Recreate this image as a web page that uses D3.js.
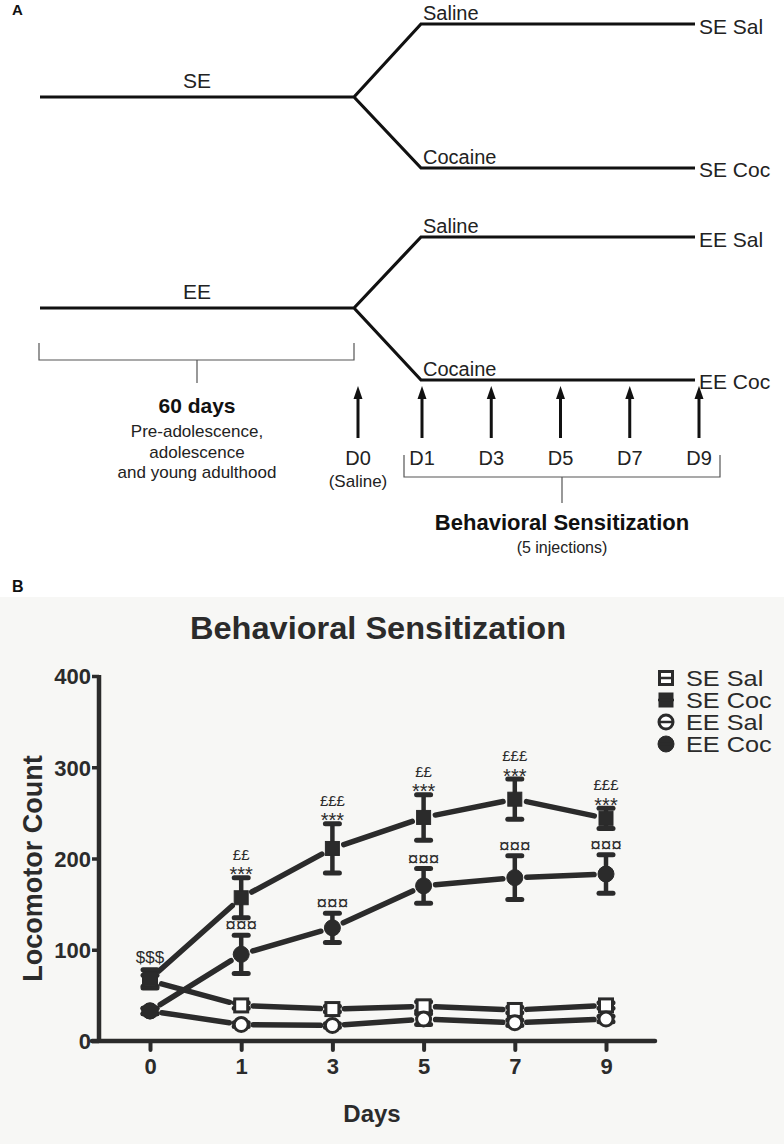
<!DOCTYPE html>
<html>
<head>
<meta charset="utf-8">
<script src="https://cdn.jsdelivr.net/npm/d3@7"></script>
<style>
  html, body { margin: 0; padding: 0; background: #ffffff; }
  svg { display: block; }
  text { font-family: "Liberation Sans", Arial, Helvetica, sans-serif; }
</style>
</head>
<body>
<svg id="fig" width="784" height="1144"></svg>
<script>
// ---------- DATA ----------
const days = ["0", "1", "3", "5", "7", "9"];
const yTicks = [0, 100, 200, 300, 400];

const seSal    = [66, 39, 35, 38, 34, 39];
const seSalErr = [6, 3, 3, 5, 3, 3];
const seCoc    = [68, 157, 211, 245, 265, 244];
const seCocErr = [10, 22, 27, 25, 22, 11];
const eeSal    = [33, 18, 17, 24, 20, 24];
const eeSalErr = [3, 2, 2, 6, 3, 3];
const eeCoc    = [33, 95, 124, 170, 179, 183];
const eeCocErr = [3, 21, 16, 19, 24, 21];

const starMarks   = ["", "***", "***", "***", "***", "***"];
const poundMarks  = ["", "££", "£££", "££", "£££", "£££"];
const dollarMarks = ["$$$", "", "", "", "", ""];
const currMarks   = ["", "¤¤¤", "¤¤¤", "¤¤¤", "¤¤¤", "¤¤¤"];

const seriesNames = ["SE Sal", "SE Coc", "EE Sal", "EE Coc"];

// Panel A diagram labels
const groups = ["SE", "EE"];
const treatments = ["Saline", "Cocaine"];
const injDays = ["D1", "D3", "D5", "D7", "D9"];

// ---------- SETUP ----------
const svg = d3.select("#fig");
const INK = "#2b2b2b";
const SANS = '"Liberation Sans", Arial, Helvetica, sans-serif';
const SERIF = '"Liberation Serif", "Times New Roman", serif';

// ================= PANEL A =================
const A = svg.append("g");
A.append("text").attr("x", 12).attr("y", 15).attr("font-size", 15)
  .attr("font-weight", "bold").attr("fill", "#111").text("A");

const trees = [
  { g: groups[0], trunk: 97,  up: 24,  down: 168 },
  { g: groups[1], trunk: 308, up: 237, down: 380 }
];
const xTrunk0 = 40, xFork = 354, xBranch = 421, xEnd = 695;

trees.forEach(t => {
  const path = d3.path();
  path.moveTo(xTrunk0, t.trunk); path.lineTo(xFork, t.trunk);
  path.lineTo(xBranch, t.up); path.lineTo(xEnd, t.up);
  path.moveTo(xFork, t.trunk); path.lineTo(xBranch, t.down); path.lineTo(xEnd, t.down);
  A.append("path").attr("d", path.toString()).attr("fill", "none")
    .attr("stroke", "#111").attr("stroke-width", 3.2).attr("stroke-linejoin", "miter");
  A.append("text").attr("x", 197).attr("y", t.trunk - 9).attr("text-anchor", "middle")
    .attr("font-size", 21).attr("fill", "#222").text(t.g);
  A.append("text").attr("x", 423).attr("y", t.up - 4)
    .attr("font-size", 20).attr("fill", "#222").text(treatments[0]);
  A.append("text").attr("x", 423).attr("y", t.down - 4)
    .attr("font-size", 20).attr("fill", "#222").text(treatments[1]);
  A.append("text").attr("x", 699).attr("y", t.up + 10)
    .attr("font-size", 21).attr("fill", "#222").text(t.g + " Sal");
  A.append("text").attr("x", 699).attr("y", t.down + 9)
    .attr("font-size", 21).attr("fill", "#222").text(t.g + " Coc");
});

// brackets
function bracket(x0, x1, yTop, yBar, stemX, stemEnd) {
  const p = d3.path();
  p.moveTo(x0, yTop); p.lineTo(x0, yBar); p.lineTo(x1, yBar); p.lineTo(x1, yTop);
  p.moveTo(stemX, yBar); p.lineTo(stemX, stemEnd);
  A.append("path").attr("d", p.toString()).attr("fill", "none")
    .attr("stroke", "#555").attr("stroke-width", 1.2);
}
bracket(39, 354, 343, 360, 197, 383);
A.append("text").attr("x", 197).attr("y", 413).attr("text-anchor", "middle")
  .attr("font-size", 21).attr("font-weight", "bold").attr("fill", "#111").text("60 days");
["Pre-adolescence,", "adolescence", "and young adulthood"].forEach((s, i) => {
  A.append("text").attr("x", 197).attr("y", 437 + i * 20.5).attr("text-anchor", "middle")
    .attr("font-size", 17).attr("fill", "#222").text(s);
});

// arrows
function arrow(x) {
  A.append("line").attr("x1", x).attr("x2", x).attr("y1", 438).attr("y2", 396)
    .attr("stroke", "#111").attr("stroke-width", 3);
  A.append("path").attr("d", `M${x},386 L${x - 4.5},399 L${x + 4.5},399 Z`).attr("fill", "#111");
}
arrow(358);
A.append("text").attr("x", 358).attr("y", 465).attr("text-anchor", "middle")
  .attr("font-size", 20).attr("fill", "#222").text("D0");
A.append("text").attr("x", 358).attr("y", 487).attr("text-anchor", "middle")
  .attr("font-size", 17).attr("fill", "#222").text("(Saline)");

const xInj = d3.scalePoint().domain(injDays).range([422, 699]);
injDays.forEach(d => {
  arrow(xInj(d));
  A.append("text").attr("x", xInj(d)).attr("y", 465).attr("text-anchor", "middle")
    .attr("font-size", 20).attr("fill", "#222").text(d);
});
bracket(404, 720, 455, 477, 562, 503);
A.append("text").attr("x", 562).attr("y", 530).attr("text-anchor", "middle")
  .attr("font-size", 22).attr("font-weight", "bold").attr("fill", "#111").text("Behavioral Sensitization");
A.append("text").attr("x", 562).attr("y", 553).attr("text-anchor", "middle")
  .attr("font-size", 16).attr("fill", "#222").text("(5 injections)");

// ================= PANEL B =================
svg.append("rect").attr("x", 0).attr("y", 597).attr("width", 784).attr("height", 547)
  .attr("fill", "#f7f7f5");
svg.append("text").attr("x", 12).attr("y", 592).attr("font-size", 16)
  .attr("font-weight", "bold").attr("fill", "#111").text("B");

const B = svg.append("g");
B.append("text").attr("transform", "translate(378,639) scale(1.05,1)").attr("text-anchor", "middle")
  .attr("font-size", 31).attr("font-weight", "bold").attr("fill", INK)
  .text("Behavioral Sensitization");

const x = d3.scalePoint().domain(days).range([150, 606]);
const y = d3.scaleLinear().domain([0, 400]).range([1041, 676]);

// axes
const yAxis = d3.axisLeft(y).tickValues(yTicks).tickSize(7).tickSizeOuter(0).tickPadding(1);
const gy = B.append("g").attr("transform", "translate(99,0)").call(yAxis);
gy.select(".domain").remove();
gy.selectAll(".tick line").attr("stroke", INK).attr("stroke-width", 3.5);
gy.selectAll(".tick text").attr("font-size", 22).attr("font-weight", "bold")
  .attr("fill", INK).attr("font-family", SANS).attr("dy", "0.36em");

const xAxis = d3.axisBottom(x).tickSize(9).tickSizeOuter(0).tickPadding(8);
const gx = B.append("g").attr("transform", "translate(0,1041)").call(xAxis);
gx.select(".domain").remove();
gx.selectAll(".tick line").attr("stroke", INK).attr("stroke-width", 4).attr("stroke-linecap", "round");
gx.selectAll(".tick text").attr("font-size", 22).attr("font-weight", "bold")
  .attr("fill", INK).attr("font-family", SANS);

// axis bars
B.append("line").attr("x1", 99).attr("x2", 99).attr("y1", y(400) - 1).attr("y2", y(0) + 2)
  .attr("stroke", INK).attr("stroke-width", 4.5);
B.append("line").attr("x1", 92).attr("x2", 655).attr("y1", y(0)).attr("y2", y(0))
  .attr("stroke", INK).attr("stroke-width", 4.5).attr("stroke-linecap", "round");

// axis titles
B.append("text").attr("transform", `translate(42,${(676 + 1041) / 2 + 10}) rotate(-90)`)
  .attr("text-anchor", "middle").attr("font-size", 27).attr("font-weight", "bold")
  .attr("fill", INK).text("Locomotor Count");
B.append("text").attr("x", 372).attr("y", 1122).attr("text-anchor", "middle")
  .attr("font-size", 24).attr("font-weight", "bold").attr("fill", INK).text("Days");

const series = [
  { name: seriesNames[0], v: seSal, e: seSalErr, shape: "square", filled: false },
  { name: seriesNames[1], v: seCoc, e: seCocErr, shape: "square", filled: true },
  { name: seriesNames[2], v: eeSal, e: eeSalErr, shape: "circle", filled: false },
  { name: seriesNames[3], v: eeCoc, e: eeCocErr, shape: "circle", filled: true }
];

// connecting lines with gaps
const gap = 12;
const linesG = B.append("g");
series.forEach(s => {
  const pts = days.map((d, i) => [x(d), y(s.v[i])]);
  const segs = d3.pairs(pts).map(([a, b]) => {
    const dx = b[0] - a[0], dy = b[1] - a[1], L = Math.hypot(dx, dy);
    const ux = dx / L, uy = dy / L;
    return [a[0] + ux * gap, a[1] + uy * gap, b[0] - ux * gap, b[1] - uy * gap];
  });
  linesG.selectAll(null).data(segs).enter().append("line")
    .attr("x1", d => d[0]).attr("y1", d => d[1]).attr("x2", d => d[2]).attr("y2", d => d[3])
    .attr("stroke", INK).attr("stroke-width", 5.5).attr("stroke-linecap", "round");
});

// error bars
const errG = B.append("g");
series.forEach(s => {
  days.forEach((d, i) => {
    const cx = x(d), top = y(s.v[i] + s.e[i]), bot = y(s.v[i] - s.e[i]);
    errG.append("line").attr("x1", cx).attr("x2", cx).attr("y1", top).attr("y2", bot)
      .attr("stroke", INK).attr("stroke-width", 4.5);
    [top, bot].forEach(yy => {
      errG.append("line").attr("x1", cx - 7).attr("x2", cx + 7).attr("y1", yy).attr("y2", yy)
        .attr("stroke", INK).attr("stroke-width", 5).attr("stroke-linecap", "round");
    });
  });
});

// markers
function marker(g, s, cx, cy) {
  if (s.shape === "square") {
    const sz = s.filled ? 14 : 13;
    g.append("rect").attr("x", cx - sz / 2).attr("y", cy - sz / 2).attr("width", sz).attr("height", sz)
      .attr("fill", s.filled ? INK : "#ffffff").attr("stroke", INK).attr("stroke-width", s.filled ? 1 : 3);
  } else {
    g.append("circle").attr("cx", cx).attr("cy", cy).attr("r", s.filled ? 8 : 7)
      .attr("fill", s.filled ? INK : "#ffffff").attr("stroke", INK).attr("stroke-width", s.filled ? 1 : 3);
  }
}
const markG = B.append("g");
series.forEach(s => {
  days.forEach((d, i) => marker(markG, s, x(d), y(s.v[i])));
});

// significance annotations
const annG = B.append("g").attr("fill", INK).attr("text-anchor", "middle");
days.forEach((d, i) => {
  const cx = x(d);
  const topSE = y(seCoc[i] + seCocErr[i]);
  const topEE = y(eeCoc[i] + eeCocErr[i]);
  if (poundMarks[i]) annG.append("text").attr("x", cx).attr("y", topSE - 18)
    .attr("font-family", SERIF).attr("font-size", 15).text(poundMarks[i]);
  if (starMarks[i]) annG.append("text").attr("x", cx).attr("y", topSE + 3.5)
    .attr("font-family", SANS).attr("font-size", 20).text(starMarks[i]);
  if (dollarMarks[i]) annG.append("text").attr("x", cx).attr("y", topSE - 7)
    .attr("font-family", SERIF).attr("font-size", 17).text(dollarMarks[i]);
  if (currMarks[i]) annG.append("text").attr("x", cx).attr("y", topEE - 4)
    .attr("font-family", SERIF).attr("font-size", 19).text(currMarks[i]);
});

// legend
const legG = B.append("g");
series.forEach((s, i) => {
  const ly = 678 + i * 22;
  marker(legG, s, 666, ly);
  legG.append("line").attr("x1", 658).attr("x2", 674).attr("y1", ly).attr("y2", ly)
    .attr("stroke", INK).attr("stroke-width", 2.5);
  legG.append("text").attr("transform", `translate(686,${ly + 8}) scale(1.15,1)`)
    .attr("font-size", 22).attr("fill", INK).text(s.name);
});
</script>
</body>
</html>
